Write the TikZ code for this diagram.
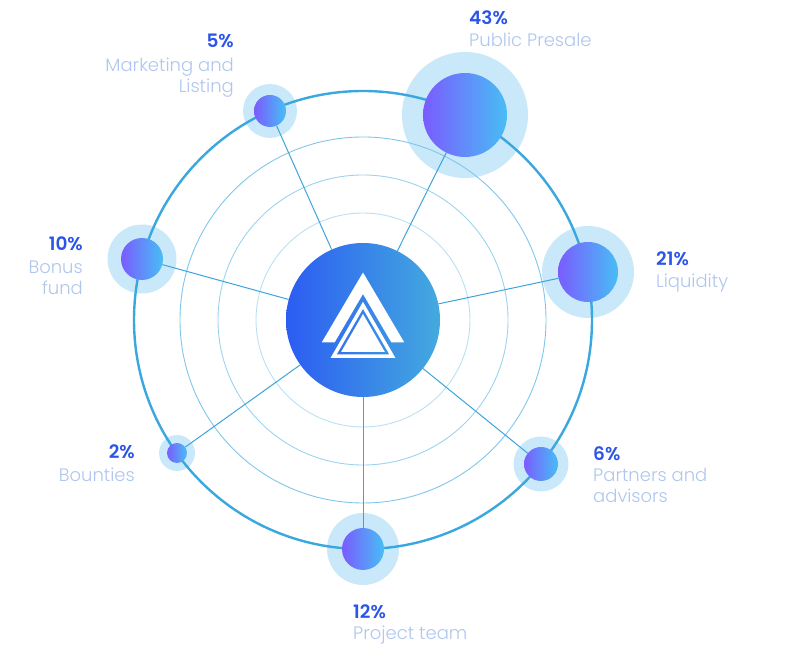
\documentclass[tikz,border=0pt]{standalone}
\usepackage{fontspec}
\setmainfont{Poppins}[BoldFont={Poppins SemiBold}]
\newfontfamily\lightfont{Poppins Light}
\usepackage{xcolor}
\usepackage{tikz}

\definecolor{pctblue}{HTML}{2B55E8}
\definecolor{lblgrey}{HTML}{AFC6EE}
\definecolor{halofill}{HTML}{C9E9FA}
\definecolor{bubleft}{HTML}{7A5CFF}
\definecolor{bubright}{HTML}{48BDF5}
\definecolor{hubleft}{HTML}{2B5CF2}
\definecolor{hubright}{HTML}{44AADF}
\definecolor{ringblue}{HTML}{3AA7DE}
\definecolor{spokeblue}{HTML}{3CA3DB}

\pgfdeclarelayer{halos}
\pgfdeclarelayer{lines}
\pgfsetlayers{halos,lines,main}

\begin{document}
\begin{tikzpicture}[
    x=1pt, y=1pt,
    hub/.style={circle, inner sep=0pt, minimum size=154pt, left color=hubleft, right color=hubright},
    halo/.style={circle, inner sep=0pt, fill=halofill},
    bubble/.style={circle, inner sep=0pt, left color=bubleft, right color=bubright},
    spoke/.style={spokeblue, line width=1pt},
    ring/.style={line width=0.9pt},
    pct/.style={inner sep=0pt, text=pctblue, font=\fontsize{18.5}{22}\selectfont\bfseries},
    lbl/.style={inner sep=0pt, text=lblgrey, align=#1, font=\fontsize{18}{21.5}\selectfont\lightfont},
    lbl/.default=left
]
\useasboundingbox (0,0) rectangle (810,660);

% hub and allocation bubbles
\node[hub] (hub) at (363,340) {};
\node[bubble, minimum size=84pt] (presale) at (465,545) {};
\node[bubble, minimum size=32pt] (market) at (270,549) {};
\node[bubble, minimum size=42pt] (bonus) at (142,401) {};
\node[bubble, minimum size=60pt] (liquid) at (588,388) {};
\node[bubble, minimum size=20pt] (bounty) at (177,207) {};
\node[bubble, minimum size=34pt] (partner) at (541,196) {};
\node[bubble, minimum size=42pt] (project) at (363,111) {};

\begin{pgfonlayer}{halos}
\node[halo, minimum size=126pt] (presaleHalo) at (presale) {};
\node[halo, minimum size=54pt] (marketHalo) at (market) {};
\node[halo, minimum size=69pt] (bonusHalo) at (bonus) {};
\node[halo, minimum size=92pt] (liquidHalo) at (liquid) {};
\node[halo, minimum size=36pt] (bountyHalo) at (bounty) {};
\node[halo, minimum size=55pt] (partnerHalo) at (partner) {};
\node[halo, minimum size=72pt] (projectHalo) at (project) {};
\end{pgfonlayer}

\begin{pgfonlayer}{lines}
\draw[ring, color=ringblue!35] (hub.center) circle (107);
\draw[ring, color=ringblue!50] (hub.center) circle (145);
\draw[ring, color=ringblue!65] (hub.center) circle (183);
\draw[ringblue, line width=2.4pt] (hub.center) circle (229);

\draw[spoke] (hub) -- (presale);
\draw[spoke] (hub) -- (market);
\draw[spoke] (hub) -- (bonus);
\draw[spoke] (hub) -- (liquid);
\draw[spoke] (hub) -- (bounty);
\draw[spoke] (hub) -- (partner);
\draw[spoke] (hub) -- (project);
\end{pgfonlayer}

% logo
\begin{scope}[shift={(hub.center)}]
\fill[white] (0,47.5) -- (41.2,-22.3) -- (28.3,-22.3) -- (0,26) -- (-28.3,-22.3) -- (-41.2,-22.3) -- cycle;
\fill[white, even odd rule] (0,18.2) -- (32.4,-37.9) -- (-32.4,-37.9) -- cycle
    (0,11.2) -- (26.3,-34.4) -- (-26.3,-34.4) -- cycle;
\fill[white] (0,6) -- (21.8,-31.8) -- (-21.8,-31.8) -- cycle;
\end{scope}

% labels
\node[pct, anchor=base west] (presalePct) at (469,635) {43\%};
\node[lbl, anchor=base west] (presaleTxt) at (469,613) {Public Presale};

\node[pct, anchor=base east] (marketPct) at (234,612) {5\%};
\node[lbl=right, anchor=base east] (marketTxt) at (234,567) {Marketing and\\Listing};

\node[pct, anchor=base east] (bonusPct) at (83,409) {10\%};
\node[lbl=right, anchor=base east] (bonusTxt) at (83,365) {Bonus\\fund};

\node[pct, anchor=base west] (liquidPct) at (656,394) {21\%};
\node[lbl, anchor=base west] (liquidTxt) at (656,372) {Liquidity};

\node[pct, anchor=base east] (bountyPct) at (135,201) {2\%};
\node[lbl=right, anchor=base east] (bountyTxt) at (135,178) {Bounties};

\node[pct, anchor=base west] (partnerPct) at (593,199) {6\%};
\node[lbl, anchor=base west] (partnerTxt) at (593,157) {Partners and\\advisors};

\node[pct, anchor=base west] (projectPct) at (353,41) {12\%};
\node[lbl, anchor=base west] (projectTxt) at (353,20) {Project team};
\end{tikzpicture}
\end{document}
